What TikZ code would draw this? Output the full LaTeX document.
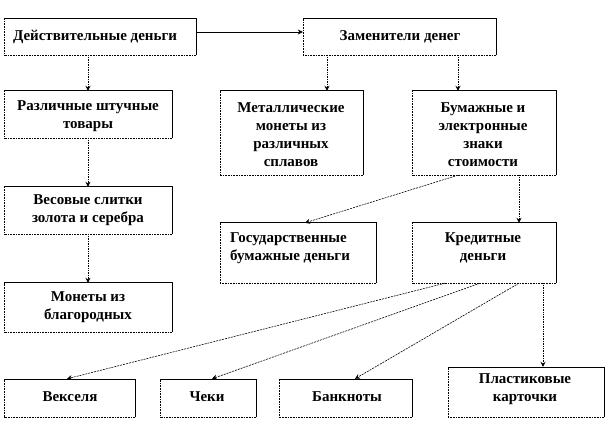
\documentclass[tikz,border=0pt]{standalone}
\usepackage{fontspec}
\setmainfont{Liberation Serif}[BoldFont={Liberation Serif Bold}]
\usetikzlibrary{fit,arrows.meta,calc}
\tikzset{
  boxnode/.style={inner sep=0pt, draw=none},
  txt/.style={inner sep=0pt, align=center, font=\bfseries\fontsize{15}{18}\selectfont},
  txtl/.style={inner sep=0pt, align=left, anchor=west, font=\bfseries\fontsize{15}{18}\selectfont},
  solidedge/.style={line width=0.6pt, black},
  dotedge/.style={line width=0.6pt, black, dash pattern=on 1pt off 0.6pt},
  flow/.style={line width=0.6pt, black, -{Stealth[length=5pt,width=5pt]}},
  dotflow/.style={flow, line width=1pt, dash pattern=on 1pt off 0.7pt},
  dashflow/.style={flow, dash pattern=on 2pt off 1pt},
}
\newcommand{\mybox}[5]{%
  \node[boxnode, fit={(#2,#3) (#4,#5)}] (#1) {};
  \draw[solidedge] (#1.north west) -- (#1.north east) -- (#1.south east);
  \draw[dotedge] (#1.south east) -- (#1.south west) -- (#1.north west);
}
\begin{document}
\begin{tikzpicture}[x=1pt,y=-1pt]
\useasboundingbox (0,0) rectangle (608,422);
\fill[white] (0,0) rectangle (608,422);
% boxes
\mybox{d}{4}{19}{196}{55}
\mybox{z}{303}{19}{496}{55}
\mybox{r}{4}{91}{172}{138}
\mybox{met}{220}{91}{363}{175}
\mybox{bum}{412}{91}{556}{175}
\mybox{v}{4}{187}{172}{234}
\mybox{gos}{220}{223}{376}{283}
\mybox{kred}{412}{223}{556}{283}
\mybox{m}{4}{283}{172}{332}
\mybox{vek}{4}{379}{135}{417}
\mybox{chek}{160}{379}{256}{417}
\mybox{bank}{279}{379}{412}{417}
\mybox{plast}{448}{367}{604}{417}
% texts
\node[txt] (dt) at (95,37) {Действительные деньги};
\node[txt] (zt) at (400,37) {Заменители денег};
\node[txt] (rt) at (88,116) {Различные штучные\\товары};
\node[txt] (mett) at (291,135) {Металлические\\монеты из\\различных\\сплавов};
\node[txt] (bumt) at (483,135) {Бумажные и\\электронные\\знаки\\стоимости};
\node[txt] (vt) at (88,210) {Весовые слитки\\золота и серебра};
\node[txtl] (gost) at (230,248) {Государственные\\бумажные деньги};
\node[txt] (kredt) at (483,248) {Кредитные\\деньги};
\node[txt] (mt) at (88,307) {Монеты из\\благородных};
\node[txt] (vekt) at (70,397) {Векселя};
\node[txt] (chekt) at (207,397) {Чеки};
\node[txt] (bankt) at (347,397) {Банкноты};
\node[txt] (plastt) at (525,389) {Пластиковые\\карточки};
% connectors
\draw[flow] ([yshift=5pt]d.east) -- ([yshift=5pt]d.east -| z.west);
\draw[dotflow] (d.south -| r.north) -- (r.north);
\draw[dotflow] (r.south) -- (v.north);
\draw[dotflow] (v.south) -- (m.north);
\draw[dotflow] ([xshift=-72.5pt]z.south) -- ([xshift=-72.5pt]z.south |- met.north);
\draw[dotflow] ([xshift=58.5pt]z.south) -- ([xshift=58.5pt]z.south |- bum.north);
\draw[dashflow] ([xshift=-26pt]bum.south) -- ([xshift=7pt]gos.north);
\draw[dotflow] ([xshift=35pt]bum.south) -- ([xshift=35pt]bum.south |- kred.north);
\draw[dashflow] ([xshift=-39pt]kred.south) -- ([xshift=-2.5pt]vek.north);
\draw[dashflow] ([xshift=-4pt]kred.south) -- ([xshift=4pt]chek.north);
\draw[dashflow] ([xshift=35pt]kred.south) -- ([xshift=9.5pt]bank.north);
\draw[dotflow] ([xshift=59pt]kred.south) -- ([xshift=59pt]kred.south |- plast.north);
\end{tikzpicture}
\end{document}
